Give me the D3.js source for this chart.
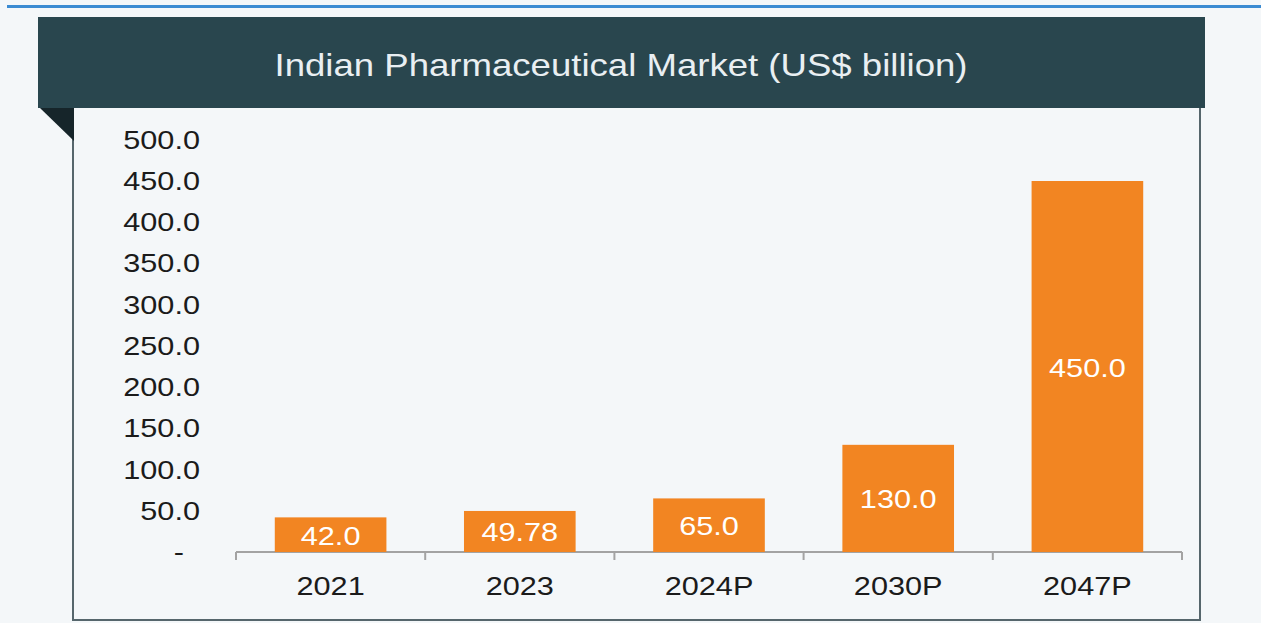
<!DOCTYPE html>
<html>
<head>
<meta charset="utf-8">
<script src="https://cdn.jsdelivr.net/npm/d3@7"></script>
<style>
  html, body { margin: 0; padding: 0; background: #f4f7f9; }
  svg { display: block; font-family: "Liberation Sans", Arial, sans-serif; }
</style>
</head>
<body>
<svg id="chart" width="1261" height="623"></svg>
<script>
// data
const title = 'Indian Pharmaceutical Market (US$ billion)';
const years = ['2021', '2023', '2024P', '2030P', '2047P'];
const values = [42.0, 49.78, 65.0, 130.0, 450.0];
const valueLabels = ['42.0', '49.78', '65.0', '130.0', '450.0'];
const yTicks = [0, 50, 100, 150, 200, 250, 300, 350, 400, 450, 500];

const width = 1261;
const height = 623;
const stretch = 1.18; // text in the source is a bit wide

const svg = d3.select('#chart');

// blue line at the top
svg.append('rect')
  .attr('x', 7).attr('y', 5)
  .attr('width', width - 7).attr('height', 3)
  .attr('fill', '#3b8bd2');

// frame round the plot
svg.append('path')
  .attr('d', 'M73,108 L73,620 L1200,620 L1200,108')
  .attr('fill', 'none')
  .attr('stroke', '#56666c')
  .attr('stroke-width', 2);

// header band + folded corner
svg.append('rect')
  .attr('x', 38).attr('y', 17)
  .attr('width', 1167).attr('height', 91)
  .attr('fill', '#29464e');

svg.append('path')
  .attr('d', 'M40,108 L74,108 L74,141 Z')
  .attr('fill', '#16252a');

svg.append('text')
  .attr('transform', 'translate(621,76) scale(' + stretch + ',1)')
  .attr('text-anchor', 'middle')
  .attr('font-size', 31)
  .attr('fill', '#e9eff2')
  .text(title);

// scales
const x = d3.scaleBand()
  .domain(years)
  .range([236, 1182])
  .paddingInner(0.41)
  .paddingOuter(0.205);

const y = d3.scaleLinear()
  .domain([0, 450])
  .range([552, 181]);

// x axis: boundaries between categories get the ticks
const bandStep = (1182 - 236) / years.length;
const xAxisG = svg.append('g').attr('class', 'x-axis');
xAxisG.append('line')
  .attr('x1', 236).attr('x2', 1182)
  .attr('y1', y(0)).attr('y2', y(0))
  .attr('stroke', '#a3a3a3').attr('stroke-width', 2);

xAxisG.selectAll('line.tick')
  .data(d3.range(years.length + 1))
  .enter()
  .append('line')
  .attr('class', 'tick')
  .attr('x1', d => 236 + d * bandStep)
  .attr('x2', d => 236 + d * bandStep)
  .attr('y1', y(0)).attr('y2', y(0) + 8)
  .attr('stroke', '#a3a3a3').attr('stroke-width', 2);

xAxisG.selectAll('text')
  .data(years)
  .enter()
  .append('text')
  .attr('transform', d => 'translate(' + (x(d) + x.bandwidth() / 2) + ',595) scale(' + stretch + ',1)')
  .attr('text-anchor', 'middle')
  .attr('font-size', 26)
  .attr('fill', '#1b1b1b')
  .text(d => d);

// y axis labels (no line)
const yAxisG = svg.append('g').attr('class', 'y-axis');
yAxisG.selectAll('text')
  .data(yTicks)
  .enter()
  .append('text')
  .attr('transform', d => 'translate(' + (d === 0 ? 184 : 200) + ',' + (y(d) + 9) + ') scale(' + stretch + ',1)')
  .attr('text-anchor', 'end')
  .attr('font-size', 26)
  .attr('fill', '#1b1b1b')
  .text(d => d === 0 ? '-' : d3.format('.1f')(d));

// bars
const g = svg.append('g').attr('class', 'body');
g.selectAll('rect.bar')
  .data(values)
  .enter()
  .append('rect')
  .attr('class', 'bar')
  .attr('x', (d, i) => x(years[i]))
  .attr('y', d => y(d))
  .attr('width', x.bandwidth())
  .attr('height', d => y(0) - y(d))
  .attr('fill', '#f28522');

g.selectAll('text.val')
  .data(values)
  .enter()
  .append('text')
  .attr('class', 'val')
  .attr('transform', (d, i) => 'translate(' + (x(years[i]) + x.bandwidth() / 2) + ',' + ((y(d) + y(0)) / 2 + 10) + ') scale(' + stretch + ',1)')
  .attr('text-anchor', 'middle')
  .attr('font-size', 26)
  .attr('fill', '#ffffff')
  .text((d, i) => valueLabels[i]);
</script>
</body>
</html>
